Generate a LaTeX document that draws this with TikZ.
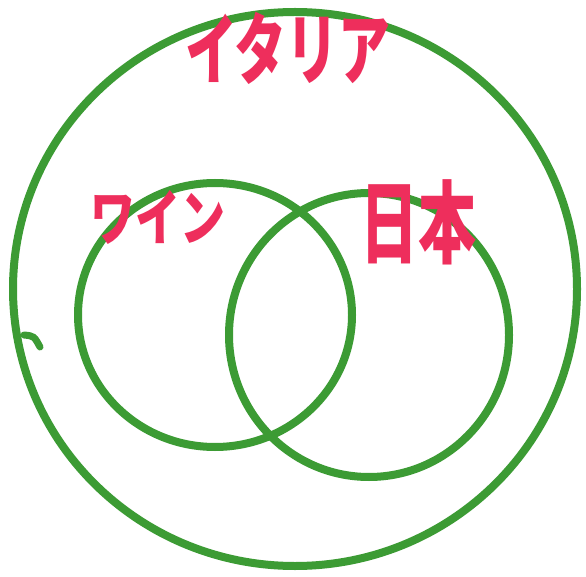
\documentclass[tikz,border=0pt]{standalone}
\usepackage{fontspec}
\newfontfamily\jpfont{Noto Sans CJK JP Black}
\definecolor{pen}{HTML}{3C9B34}
\definecolor{ink}{HTML}{EE2E5C}
\begin{document}
\begin{tikzpicture}[x=1pt,y=-1pt,
  ring/.style={draw=pen,line width=8pt},
  label/.style={text=ink,font=\jpfont,inner sep=0pt}]
\useasboundingbox (0,0) rectangle (586,577);
\fill[white] (0,0) rectangle (586,577);
\draw[ring] (295,289) ellipse [x radius=282,y radius=277];
\draw[ring] (215,315) ellipse [x radius=137,y radius=132];
\draw[ring] (369,335) ellipse [x radius=140,y radius=142];
\draw[draw=pen,line width=7pt,line cap=round] (24,335) .. controls (34,336) .. (40,347);
\node[label,font=\jpfont\fontsize{52}{52}\selectfont,yscale=1.5] (italia) at (288,48) {イタリア};
\node[label,font=\jpfont\fontsize{45}{45}\selectfont,yscale=1.35] (wine) at (158,217) {ワイン};
\node[label,font=\jpfont\fontsize{58}{58}\selectfont,yscale=1.55] (japan) at (418,222) {日本};
\end{tikzpicture}
\end{document}
